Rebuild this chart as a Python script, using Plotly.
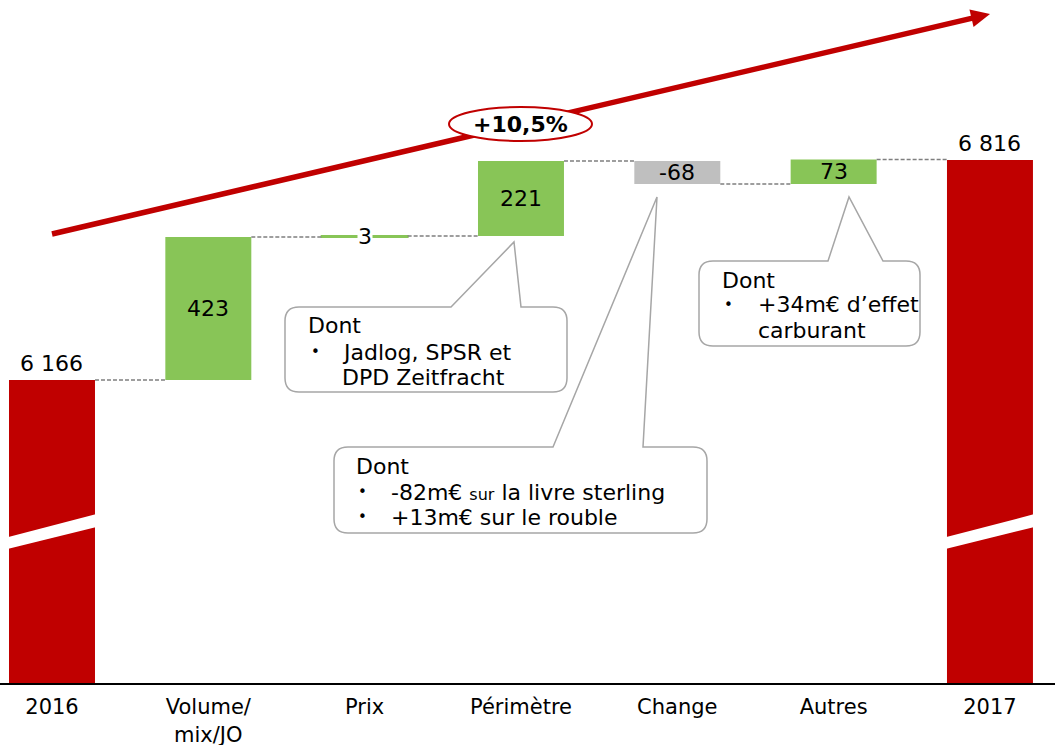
import plotly.graph_objects as go

# ---------------- data ----------------
categories = ["2016", "Volume/<br>mix/JO", "Prix", "Périmètre", "Change", "Autres", "2017"]
values = [6166, 423, 3, 221, -68, 73, 6816]
measures = ["absolute", "relative", "relative", "relative", "relative", "relative", "total"]
value_labels = ["6 166", "423", "3", "221", "-68", "73", "6 816"]
growth_label = "+10,5%"

callout_perimetre = ["Dont", "Jadlog, SPSR et", "DPD Zeitfracht"]
callout_change = ["Dont", "-82m€ <span style='font-size:16px'>sur</span> la livre sterling", "+13m€ sur le rouble"]
callout_autres = ["Dont", "+34m€ d’effet", "carburant"]

# ---------------- style ----------------
RED = "#C00000"
GREEN = "#88C557"
GREY = "#BFBFBF"
CONN = "#7F7F7F"
BOX = "#A6A6A6"
FONT = "DejaVu Sans"
FS = 22

W, H = 1055, 745
MB = 62
PH = H - MB
BAR_W = 0.55

# ---------------- waterfall geometry ----------------
bases, heights, colors, levels = [], [], [], []
running = 0
for v, m in zip(values, measures):
    if m in ("absolute", "total"):
        bases.append(0)
        heights.append(v)
        colors.append(RED)
        running = v
    else:
        if v >= 0:
            bases.append(running)
            colors.append(GREEN)
        else:
            bases.append(running + v)
            colors.append(GREY)
        heights.append(abs(v))
        running += v
    levels.append(running)

xs = list(range(len(categories)))

fig = go.Figure()

# connectors
cx, cy = [], []
for i in range(len(xs) - 1):
    lvl = levels[i]
    cx += [xs[i] + BAR_W / 2, xs[i + 1] - BAR_W / 2, None]
    cy += [lvl, lvl, None]
fig.add_trace(go.Scatter(x=cx, y=cy, mode="lines",
                         line=dict(color=CONN, width=1.5, dash="4px,2px"),
                         hoverinfo="skip", showlegend=False))

line_w = [2 if abs(h) < 10 else 0 for h in heights]
fig.add_trace(go.Bar(x=xs, y=heights, base=bases, width=BAR_W,
                     marker=dict(color=colors, line=dict(color=colors, width=line_w)),
                     hoverinfo="skip", showlegend=False))

Y0, Y1 = 5271, 7289

annotations = []
# bar value labels
for i, (b, h, lab, m) in enumerate(zip(bases, heights, value_labels, measures)):
    if m in ("absolute", "total"):
        annotations.append(dict(x=xs[i], y=b + h, xref="x", yref="y", text=lab,
                                showarrow=False, yanchor="bottom", yshift=2,
                                font=dict(family=FONT, size=FS, color="black")))
    elif h < 10:
        annotations.append(dict(x=xs[i], y=b + h / 2, xref="x", yref="y", text=lab,
                                showarrow=False, yanchor="middle", bgcolor="white",
                                borderpad=0,
                                font=dict(family=FONT, size=FS, color="black")))
    else:
        annotations.append(dict(x=xs[i], y=b + h / 2, xref="x", yref="y", text=lab,
                                showarrow=False, yanchor="middle",
                                font=dict(family=FONT, size=FS, color="black")))

# ---------------- decorations (pixel helpers) ----------------
def PX(x):
    return x / W

def PY(y):
    return 1 - y / PH

def pt(x, y):
    return f"{PX(x):.5f},{PY(y):.5f}"

shapes = []

# axis breaks on the total bars
for i in (0, len(xs) - 1):
    xl = xs[i] - BAR_W / 2 - 0.01
    xr = xs[i] + BAR_W / 2 + 0.01
    path = f"M {xl},5702 L {xr},5770 L {xr},5732 L {xl},5667 Z"
    shapes.append(dict(type="path", xref="x", yref="y", path=path,
                       fillcolor="white", line=dict(width=0)))

# growth arrow
sx, sy = 52, 234
tx, ty = 990, 14
dx, dy = tx - sx, ty - sy
L = (dx * dx + dy * dy) ** 0.5
ux, uy = dx / L, dy / L
nx, ny = -uy, ux
hl, hw = 19, 9
bx, by = tx - hl * ux, ty - hl * uy
shapes.append(dict(type="line", xref="paper", yref="paper",
                   x0=PX(sx), y0=PY(sy), x1=PX(bx + 2 * ux), y1=PY(by + 2 * uy),
                   line=dict(color=RED, width=5.5)))
shapes.append(dict(type="path", xref="paper", yref="paper",
                   path=f"M {pt(tx, ty)} L {pt(bx + hw * nx, by + hw * ny)} L {pt(bx - hw * nx, by - hw * ny)} Z",
                   fillcolor=RED, line=dict(width=0)))
# ellipse
shapes.append(dict(type="circle", xref="paper", yref="paper",
                   x0=PX(449), y0=PY(141), x1=PX(592), y1=PY(107),
                   fillcolor="white", line=dict(color=RED, width=2)))
annotations.append(dict(x=PX(520.5), y=PY(124), xref="paper", yref="paper",
                        text=f"<b>{growth_label}</b>", showarrow=False,
                        xanchor="center", yanchor="middle",
                        font=dict(family=FONT, size=FS, color="black")))


def callout(x0, y0, x1, y1, pl, tip, pr, r=14):
    p = [f"M {pt(x0 + r, y0)}", f"L {pt(pl, y0)}", f"L {pt(*tip)}", f"L {pt(pr, y0)}",
         f"L {pt(x1 - r, y0)}", f"Q {pt(x1, y0)} {pt(x1, y0 + r)}",
         f"L {pt(x1, y1 - r)}", f"Q {pt(x1, y1)} {pt(x1 - r, y1)}",
         f"L {pt(x0 + r, y1)}", f"Q {pt(x0, y1)} {pt(x0, y1 - r)}",
         f"L {pt(x0, y0 + r)}", f"Q {pt(x0, y0)} {pt(x0 + r, y0)}", "Z"]
    return dict(type="path", xref="paper", yref="paper", path=" ".join(p),
                fillcolor="white", line=dict(color=BOX, width=1.5))


shapes.append(callout(285, 307, 567, 392, 451, (514, 242), 521))
shapes.append(callout(334, 447, 707, 533, 553, (657, 197), 643))
shapes.append(callout(699, 261, 920, 346, 828, (849, 197), 883))


def txt(x, y, s):
    annotations.append(dict(x=PX(x), y=PY(y), xref="paper", yref="paper", text=s,
                            showarrow=False, xanchor="left", yanchor="middle",
                            font=dict(family=FONT, size=FS, color="black")))


def bullet(x, y):
    annotations.append(dict(x=PX(x), y=PY(y), xref="paper", yref="paper", text="•",
                            showarrow=False, xanchor="left", yanchor="middle",
                            font=dict(family=FONT, size=15, color="black")))


# callout Périmètre
txt(306, 326, callout_perimetre[0])
bullet(309, 352)
txt(340, 352, callout_perimetre[1])
txt(340, 377, callout_perimetre[2])
# callout Change
txt(354, 466, callout_change[0])
bullet(356, 492)
txt(389, 492, callout_change[1])
bullet(356, 517)
txt(389, 517, callout_change[2])
# callout Autres
txt(720, 280, callout_autres[0])
bullet(722, 305)
txt(756, 305, callout_autres[1])
txt(756, 330, callout_autres[2])

fig.update_layout(
    width=W, height=H, autosize=False,
    margin=dict(l=0, r=0, t=0, b=MB, pad=0, autoexpand=False),
    paper_bgcolor="white", plot_bgcolor="white",
    showlegend=False, barmode="overlay",
    shapes=shapes, annotations=annotations,
    font=dict(family=FONT, size=FS, color="black"),
)
fig.update_xaxes(range=[-0.3326, 6.416], tickmode="array", tickvals=xs, ticktext=categories,
                 showline=True, linecolor="black", linewidth=2, showgrid=False, zeroline=False,
                 ticks="outside", ticklen=4, tickcolor="rgba(0,0,0,0)", automargin=False,
                 tickfont=dict(family=FONT, size=21, color="black"), fixedrange=True)
fig.update_yaxes(range=[Y0, Y1], visible=False, showgrid=False, zeroline=False,
                 automargin=False, fixedrange=True)

fig.write_html("out.html", config={"displayModeBar": False},
               post_script="document.body.style.margin='0';document.body.style.overflow='hidden';")
